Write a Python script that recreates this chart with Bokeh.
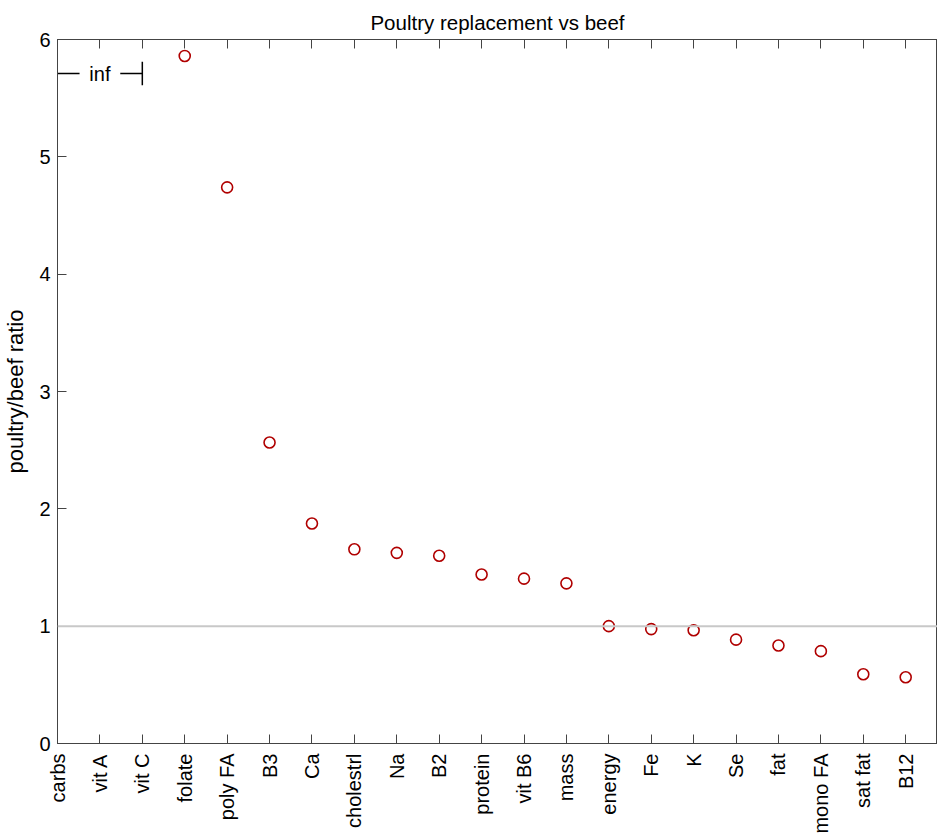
import math
from bokeh.plotting import figure
from bokeh.models import (ColumnDataSource, FixedTicker, LinearAxis, Span, Range1d)
from bokeh.core.properties import value
from bokeh.embed import file_html
from bokeh.resources import INLINE

categories = ["carbs", "vit A", "vit C", "folate", "poly FA", "B3", "Ca", "cholestrl",
              "Na", "B2", "protein", "vit B6", "mass", "energy", "Fe", "K", "Se", "fat",
              "mono FA", "sat fat", "B12"]
# None marks an infinite ratio (beef has none of the nutrient)
ratios = [None, None, None, 5.86, 4.74, 2.565, 1.875, 1.655, 1.625, 1.60, 1.44, 1.405,
          1.365, 1.0, 0.975, 0.965, 0.885, 0.835, 0.787, 0.59, 0.565]
inf_level = 5.71
ref_level = 1.0
y_ticks = [0, 1, 2, 3, 4, 5, 6]

FONT = "Liberation Sans"

idx = list(range(len(categories)))
fin_x = [i for i, r in zip(idx, ratios) if r is not None]
fin_y = [r for r in ratios if r is not None]
inf_x = [i for i, r in zip(idx, ratios) if r is None]

p = figure(width=932, height=831, output_backend="svg", toolbar_location=None,
           x_range=Range1d(0, 20.75), y_range=Range1d(0, 6),
           x_axis_location=None, y_axis_location=None,
           min_border_left=56, min_border_right=0, min_border_top=39, min_border_bottom=88)
p.frame_width = 880
p.frame_height = 704
p.grid.visible = False
p.outline_line_color = "#444444"
p.outline_line_width = 1
p.background_fill_color = "white"
p.border_fill_color = "white"

p.title.text = "Poultry replacement vs beef"
p.title.align = "center"
p.title.text_font = FONT
p.title.text_font_size = "20.5px"
p.title.text_font_style = "normal"
p.title.text_color = "black"
p.title.standoff = 12

labels = {i: c for i, c in zip(idx, categories)}

xb = LinearAxis(ticker=FixedTicker(ticks=idx), major_label_overrides=labels,
                major_label_orientation=math.pi / 2)
xt = LinearAxis(ticker=FixedTicker(ticks=idx),
                major_label_overrides={i: "" for i in idx}, major_label_standoff=0)
yl = LinearAxis(ticker=FixedTicker(ticks=y_ticks), axis_label="poultry/beef ratio")
for ax in (xb, xt, yl):
    ax.major_tick_in = 9
    ax.major_tick_out = 0
    ax.minor_tick_line_color = None
    ax.axis_line_color = "#444444"
    ax.major_tick_line_color = "#444444"
    ax.major_label_text_font = FONT
    ax.axis_label_text_font = FONT
    ax.axis_label_text_font_style = "normal"
    ax.axis_label_text_color = "black"
    ax.major_label_text_color = "black"
    ax.major_label_text_font_size = "20px"
yl.axis_label_text_font_size = "22px"
xb.major_label_standoff = 10
yl.major_label_standoff = 7
yl.axis_label_standoff = 8
p.add_layout(xb, "below")
p.add_layout(xt, "above")
p.add_layout(yl, "left")

p.add_layout(Span(location=ref_level, dimension="width", line_color="#c8c8c8", line_width=2))

src = ColumnDataSource(dict(x=fin_x, y=fin_y))
p.scatter("x", "y", source=src, size=11, marker="circle", fill_color=None,
          line_color="#b00000", line_width=1.6)

# "inf" marker spanning the categories with infinite ratio
x0, x1 = inf_x[0], inf_x[-1]
mid = (x0 + x1) / 2
p.segment(x0=[x0, mid + 0.48], y0=[inf_level, inf_level],
          x1=[mid - 0.48, x1], y1=[inf_level, inf_level], line_color="black", line_width=1.5)
p.segment(x0=[x1], y0=[inf_level - 0.1], x1=[x1], y1=[inf_level + 0.1],
          line_color="black", line_width=1.5)
p.text(x=[mid], y=[inf_level], text=["inf"], text_align="center", text_baseline="middle",
       text_font=value(FONT), text_font_size="20px", text_color="black")

open("out.html", "w").write(file_html(p, INLINE))
